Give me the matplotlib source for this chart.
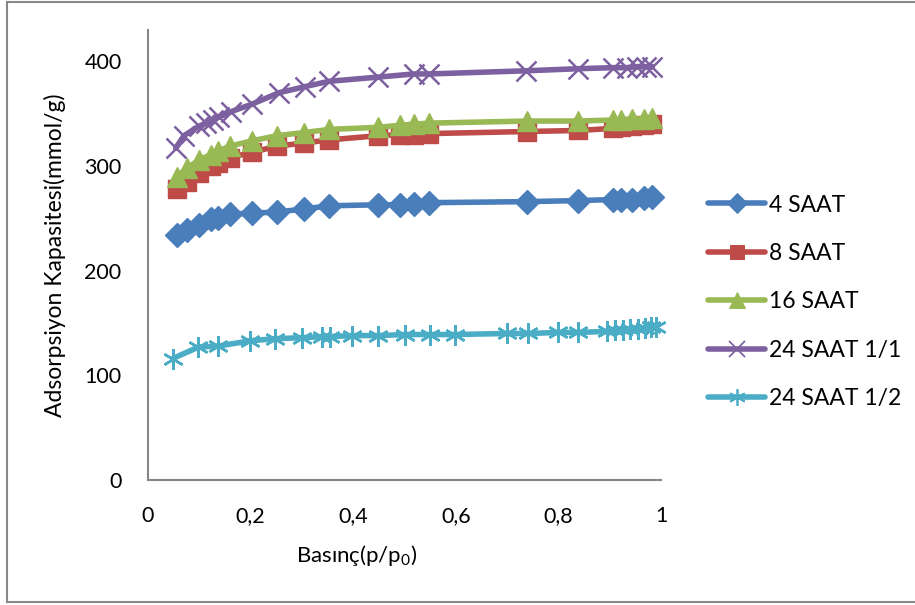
"""Adsorption isotherms (Excel-style scatter with lines)."""
import matplotlib
matplotlib.use("Agg")
import matplotlib.pyplot as plt
from matplotlib.lines import Line2D

plt.rcParams["font.family"] = ["Lato", "DejaVu Sans"]
plt.rcParams["mathtext.fontset"] = "custom"
plt.rcParams["mathtext.rm"] = "Lato"
plt.rcParams["mathtext.it"] = "Lato"

# relative pressure p/p0
P_MAIN = [0.057, 0.076, 0.100, 0.123, 0.136, 0.159, 0.202, 0.251, 0.304, 0.353, 0.449,
          0.492, 0.518, 0.548, 0.739, 0.839, 0.907, 0.923, 0.943, 0.966, 0.983]
P_24_11 = [0.054, 0.070, 0.099, 0.113, 0.126, 0.139, 0.162, 0.202, 0.255, 0.307, 0.353,
           0.449, 0.518, 0.548, 0.736, 0.838, 0.906, 0.933, 0.953, 0.970, 0.983]
P_24_12 = [0.048, 0.098, 0.137, 0.199, 0.248, 0.300, 0.340, 0.355, 0.397, 0.449, 0.500,
           0.550, 0.598, 0.699, 0.741, 0.800, 0.839, 0.894, 0.910, 0.925, 0.940, 0.955,
           0.968, 0.980, 0.990]

# adsorption capacity (mmol/g)
Q_4 = [234, 239, 244, 249, 250, 254, 255, 256, 259, 262, 263, 263, 264, 265, 266, 267,
       268, 268, 268, 269, 270]
Q_8 = [278, 285, 293, 300, 303, 308, 313, 319, 322, 325, 329, 330, 330, 331, 333, 334,
       336, 337, 338, 339, 340]
Q_16 = [290, 298, 306, 311, 314, 319, 324, 329, 332, 335, 337, 339, 340, 341, 343, 343,
        344, 344, 345, 345, 346]
Q_24_11 = [317, 329, 338, 341, 344, 347, 352, 359, 370, 376, 381, 385, 388, 388, 391, 393,
           394, 394, 395, 395, 395]
Q_24_12 = [116, 127, 128, 133, 135, 136, 137, 137, 138, 138, 139, 139, 139, 140, 140, 141,
           141, 142, 143, 143, 144, 144, 145, 146, 146]

SERIES = [
    ("4 SAAT", P_MAIN, Q_4, "#4A7EBB", "D", 12.5, 1),
    ("8 SAAT", P_MAIN, Q_8, "#BE4B48", "s", 13, 1),
    ("16 SAAT", P_MAIN, Q_16, "#98B954", "^", 14, 1),
    ("24 SAAT 1/1", P_24_11, Q_24_11, "#7D60A0", "x", 14, 1.8),
    ("24 SAAT 1/2", P_24_12, Q_24_12, "#4BACC6", (6, 2, 0), 15, 1.8),
]

W, H = 915, 605
fig = plt.figure(figsize=(W / 100, H / 100), dpi=100)
ax = fig.add_axes([148 / W, 1 - 480 / H, (661 - 148) / W, (480 - 30) / H])

handles = []
for name, xs, ys, col, mk, ms, mew in SERIES:
    ax.plot(xs, ys, color=col, lw=4, marker=mk, ms=ms, mfc=col, mec=col,
            mew=mew, solid_capstyle="round", solid_joinstyle="round", clip_on=False)
    handles.append(Line2D([], [], color=col, lw=4, marker=mk, ms=ms * 0.8, mfc=col,
                          mec=col, mew=mew * 0.7, solid_capstyle="round"))

ax.set_xlim(0, 1)
ax.set_ylim(0, 430)
ax.set_xticks([0, 0.2, 0.4, 0.6, 0.8, 1])
ax.set_xticklabels(["0", "0,2", "0,4", "0,6", "0,8", "1"])
ax.set_yticks([0, 100, 200, 300, 400])
ax.tick_params(length=0, labelsize=15.5, colors="black")
ax.tick_params(axis="y", pad=19)
ax.tick_params(axis="x", pad=19)
for s in ("top", "right"):
    ax.spines[s].set_visible(False)
for s in ("left", "bottom"):
    ax.spines[s].set_color("#868686")
    ax.spines[s].set_linewidth(1.5)

ax.set_xlabel("Basınç(p/p$_0$)", fontsize=16)
ax.xaxis.set_label_coords((357 - 148) / 513, -0.14)
ax.set_ylabel("Adsorpsiyon Kapasitesi(mmol/g)", fontsize=16.5)
ax.yaxis.set_label_coords(-0.16, 0.5)

fig.legend(handles, [s[0] for s in SERIES], loc="center left",
           bbox_to_anchor=(697 / W, 1 - 302 / H), frameon=False, fontsize=16.5,
           handlelength=2.45, handletextpad=0.2, labelspacing=1.2, borderpad=0)

# outer chart frame (top, left, bottom)
fc = "#888888"
fig.add_artist(Line2D([7 / W, 1], [1 - 2 / H, 1 - 2 / H], color=fc, lw=1.5))
fig.add_artist(Line2D([7 / W, 7 / W], [1 - 2 / H, 1 - 602 / H], color=fc, lw=1.5))
fig.add_artist(Line2D([7 / W, 1], [1 - 602 / H, 1 - 602 / H], color=fc, lw=1.5))

fig.savefig("out.png", dpi=100)
